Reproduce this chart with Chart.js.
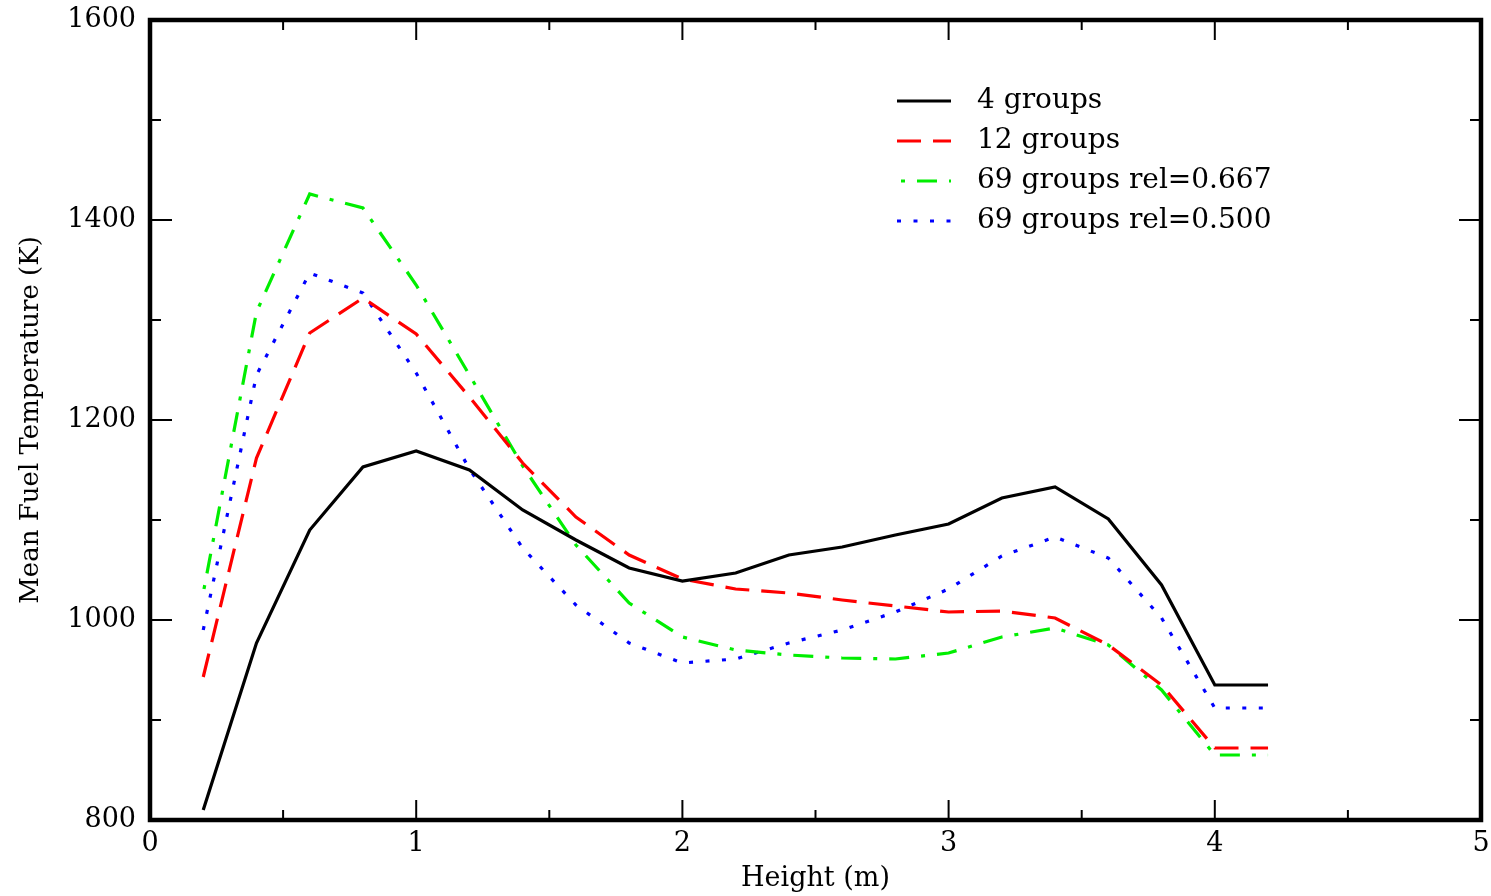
<!DOCTYPE html>
<html>
<head>
<meta charset="utf-8">
<script src="https://cdn.jsdelivr.net/npm/chart.js@4.4.1/dist/chart.umd.min.js"></script>
<style>
  html, body { margin: 0; padding: 0; background: #fff; }
  #wrap { width: 1491px; height: 896px; }
</style>
</head>
<body>
<div id="wrap"><canvas id="fuelChart" width="1491" height="896"></canvas></div>
<script>
// heights along the channel (m)
const heights = [0.2, 0.4, 0.6, 0.8, 1.0, 1.2, 1.4, 1.6, 1.8, 2.0, 2.2, 2.4, 2.6, 2.8, 3.0, 3.2, 3.4, 3.6, 3.8, 4.0, 4.2];

// mean fuel temperature (K)
const groups4  = [810, 977, 1090, 1153, 1169, 1150, 1110, 1080, 1052, 1039, 1047, 1065, 1073, 1085, 1096, 1122, 1133, 1101, 1035, 935, 935];
const groups12 = [943, 1162, 1287, 1322, 1286, 1223, 1157, 1103, 1065, 1041, 1031, 1027, 1020, 1014, 1008, 1009, 1002, 975, 935, 872, 872];
const rel667   = [1027, 1308, 1426, 1412, 1335, 1245, 1154, 1075, 1017, 983, 970, 965, 962, 961, 967, 983, 992, 975, 930, 865, 865];
const rel500   = [990, 1245, 1347, 1327, 1247, 1151, 1072, 1015, 977, 957, 961, 977, 990, 1008, 1031, 1064, 1083, 1062, 1002, 912, 912];

const seriesLabels = ['4 groups', '12 groups', '69 groups rel=0.667', '69 groups rel=0.500'];

const FONT = 'DejaVu Serif';

function pts(vals) {
    return heights.map((h, i) => ({ x: h, y: vals[i] }));
}

// inward ticks on all four sides, thick frame, legend inside the plot
const framePlugin = {
    id: 'frame',
    afterDatasetsDraw(chart) {
        const { ctx, chartArea: a, scales: { x, y } } = chart;
        ctx.save();
        ctx.strokeStyle = '#000';
        ctx.lineWidth = 2;
        ctx.setLineDash([]);
        const seg = (x1, y1, x2, y2) => { ctx.beginPath(); ctx.moveTo(x1, y1); ctx.lineTo(x2, y2); ctx.stroke(); };
        for (let v = 0; v <= 5; v += 0.5) {
            const px = x.getPixelForValue(v);
            const len = v % 1 === 0 ? 20 : 10;
            seg(px, a.bottom, px, a.bottom - len);
            seg(px, a.top, px, a.top + len);
        }
        for (let v = 800; v <= 1600; v += 100) {
            const py = y.getPixelForValue(v);
            const len = v % 200 === 0 ? 22 : 11;
            seg(a.left, py, a.left + len, py);
            seg(a.right, py, a.right - len, py);
        }
        ctx.lineWidth = 4.5;
        ctx.strokeRect(a.left, a.top, a.right - a.left, a.bottom - a.top);

        // legend
        ctx.font = '28px "' + FONT + '"';
        ctx.fillStyle = '#000';
        ctx.textBaseline = 'middle';
        chart.data.datasets.forEach((ds, i) => {
            const ly = 101 + i * 40;
            ctx.strokeStyle = ds.borderColor;
            ctx.lineWidth = ds.borderWidth;
            ctx.setLineDash(ds.borderDash || []);
            ctx.lineDashOffset = ds.borderDashOffset || 0;
            seg(897, ly, 951, ly);
            ctx.setLineDash([]);
            ctx.fillText(ds.label, 977, ly);
        });
        ctx.restore();
    }
};

new Chart(document.getElementById('fuelChart'), {
    type: 'line',
    data: {
        datasets: [{
            label: seriesLabels[0],
            data: pts(groups4),
            borderColor: '#000000',
            borderWidth: 3.2
        }, {
            label: seriesLabels[1],
            data: pts(groups12),
            borderColor: '#ff0000',
            borderWidth: 3.2,
            borderDash: [24, 12]
        }, {
            label: seriesLabels[2],
            data: pts(rel667),
            borderColor: '#00ee00',
            borderWidth: 3.2,
            borderDash: [20, 12, 4, 12],
            borderDashOffset: 28
        }, {
            label: seriesLabels[3],
            data: pts(rel500),
            borderColor: '#0000ff',
            borderWidth: 3.2,
            borderDash: [4, 12.5]
        }]
    },
    options: {
        responsive: false,
        animation: false,
        events: [],
        elements: {
            point: { radius: 0 },
            line: { tension: 0, fill: false }
        },
        layout: { padding: { top: 20, right: 10, left: 0, bottom: 0 } },
        plugins: {
            legend: { display: false },
            tooltip: { enabled: false }
        },
        scales: {
            x: {
                type: 'linear',
                min: 0,
                max: 5,
                grid: { display: false, drawTicks: false },
                border: { display: false },
                ticks: {
                    stepSize: 1,
                    color: '#000',
                    padding: 8,
                    maxRotation: 0,
                    font: { family: FONT, size: 27 },
                    callback: (v) => String(v)
                },
                title: {
                    display: true,
                    text: 'Height (m)',
                    color: '#000',
                    padding: { top: 0, bottom: 1 },
                    font: { family: FONT, size: 27 }
                },
                afterFit(scale) {
                    scale.height = 76;
                    scale.paddingLeft = 0;
                    scale.paddingRight = 0;
                }
            },
            y: {
                min: 800,
                max: 1600,
                grid: { display: false, drawTicks: false },
                border: { display: false },
                ticks: {
                    stepSize: 200,
                    color: '#000',
                    padding: 14,
                    font: { family: FONT, size: 27 },
                    callback: (v) => String(v)
                },
                title: {
                    display: true,
                    text: 'Mean Fuel Temperature (K)',
                    color: '#000',
                    padding: { top: 16, bottom: 0 },
                    font: { family: FONT, size: 26 }
                },
                afterFit(scale) {
                    scale.width = 150;
                    scale.paddingTop = 0;
                    scale.paddingBottom = 0;
                }
            }
        }
    },
    plugins: [framePlugin]
});
</script>
</body>
</html>
